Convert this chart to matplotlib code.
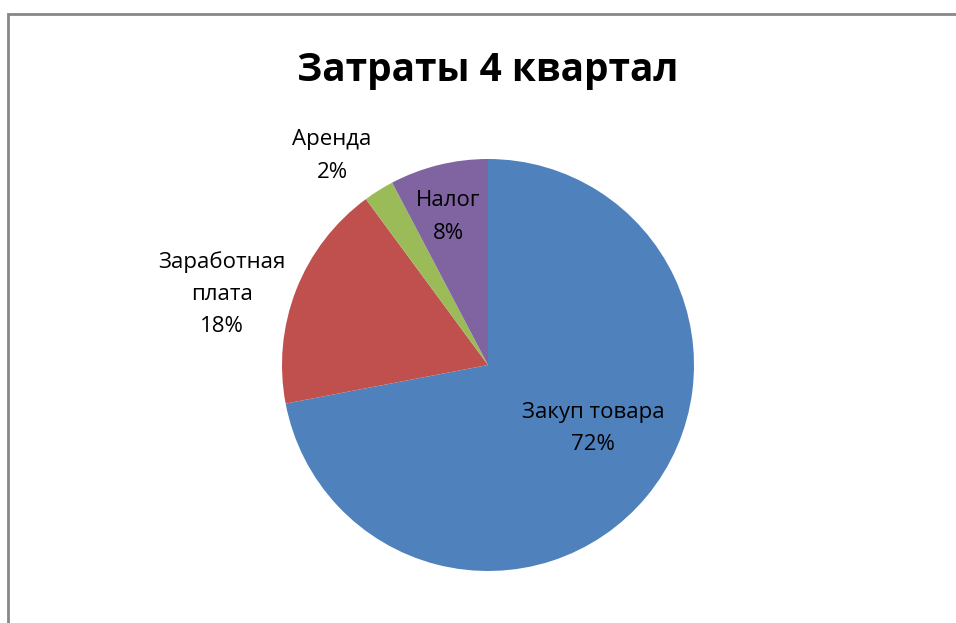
import matplotlib
matplotlib.use("Agg")
from matplotlib import pyplot as plt
import matplotlib.patches as mpatches

title = "Затраты 4 квартал"
labels = ["Закуп товара", "Заработная\nплата", "Аренда", "Налог"]
shares = [72.0, 17.9, 2.4, 7.7]
pct_text = ["72%", "18%", "2%", "8%"]
colors = ["#4f81bd", "#c0504d", "#9bbb59", "#8064a2"]

# label positions in pie units (radius = 1)
label_xy = [(0.51, -0.31), (-1.29, 0.345), (-0.757, 1.015), (-0.194, 0.718)]

plt.rcParams['font.family'] = ['Open Sans', 'DejaVu Sans']

W, H = 956, 623
fig = plt.figure(figsize=(W / 100, H / 100), dpi=100)
fig.patch.set_facecolor("white")

# chart border (runs off right and bottom)
fig.add_artist(mpatches.Rectangle((8 / W, -0.1), 1.2, (H - 14) / H + 0.1,
                                  transform=fig.transFigure, fill=False,
                                  edgecolor="#878787", linewidth=2))

cx, cy, r = 488, 365, 206
ax = fig.add_axes([(cx - r) / W, (H - cy - r) / H, 2 * r / W, 2 * r / H])
ax.pie(shares, colors=colors, startangle=90, counterclock=False,
       radius=1, wedgeprops=dict(linewidth=0))
ax.set_xlim(-1, 1)
ax.set_ylim(-1, 1)
ax.set_aspect("equal")
ax.axis("off")

for (lx, ly), lab, p in zip(label_xy, labels, pct_text):
    ax.text(lx, ly, lab + "\n" + p, ha="center", va="center", fontsize=16,
            linespacing=1.7, color="black", clip_on=False)

fig.text(488 / W, 1 - 71 / H, title, ha="center", va="center",
         fontsize=28, fontweight="bold", color="black")

plt.savefig("out.png", dpi=100)
